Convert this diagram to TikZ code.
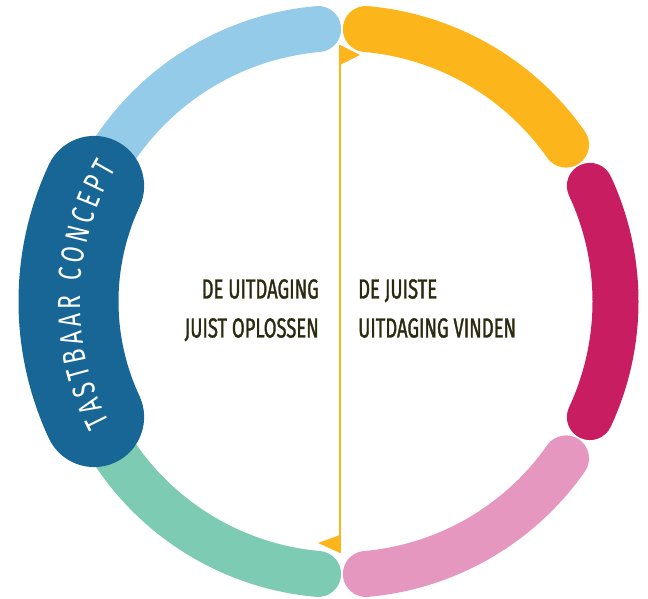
\documentclass[tikz,border=0pt]{standalone}
\usepackage{fontspec}
\usetikzlibrary{decorations.text}
\newfontfamily\labelfont[FakeStretch=0.67, FakeBold=1.2]{Fira Sans}
\newfontfamily\bandfont[FakeStretch=0.72]{Fira Sans}
\definecolor{skyblue}{HTML}{93CBE8}
\definecolor{sunyellow}{HTML}{FDB51C}
\definecolor{berry}{HTML}{C91D62}
\definecolor{rosepink}{HTML}{E697BF}
\definecolor{mint}{HTML}{7ECBB3}
\definecolor{deepblue}{HTML}{176695}
\definecolor{labeltext}{HTML}{2B2A10}
\begin{document}
\begin{tikzpicture}[
    x=1pt, y=1pt,
    seg/.style={line width=46pt, line cap=round},
    band/.style={line width=100pt, line cap=round, draw=deepblue},
    caption/.style={font=\labelfont\fontsize{27.5}{39}\selectfont, text=labeltext, inner sep=0pt},
    flag/.style={fill=sunyellow}
]
    \useasboundingbox (0,0) rectangle (648,599);
    \coordinate (c) at (342,297.5);

    % thin ring segments
    \foreach \col/\a/\b in {skyblue/95/150, sunyellow/85/35, berry/25/-25, rosepink/-35/-85, mint/-95/-150}
        \draw[seg, draw=\col] ([shift={(\a:273.5)}]c) arc[start angle=\a, end angle=\b, radius=273.5];

    % thick band with its label
    \draw[band] ([shift={(155:273.5)}]c) arc[start angle=155, end angle=205, radius=273.5];
    \path[decorate, decoration={text along path,
        text={|\bandfont\fontsize{32}{32}\selectfont|TASTBAAR CONCEPT}, text color=white,
        text align={fit to path}}]
        ([shift={(207.5:262)}]c) arc[start angle=207.5, end angle=149.5, radius=262];

    % divider with flags
    \coordinate (top) at (340,554);
    \coordinate (bot) at (340,46);
    \draw[line width=2.5pt, draw=sunyellow] (top) -- (bot);
    \fill[flag] (top) -- ++(20,-10) -- ++(-20,-10) -- cycle;
    \fill[flag] (bot) -- ++(-22,10) -- ++(22,8) -- cycle;

    \node[caption, anchor=north east, align=right] (solve) at (319,320) {DE UITDAGING\\JUIST OPLOSSEN};
    \node[caption, anchor=north west, align=left] (find) at (358,320) {DE JUISTE\\UITDAGING VINDEN};
\end{tikzpicture}
\end{document}
